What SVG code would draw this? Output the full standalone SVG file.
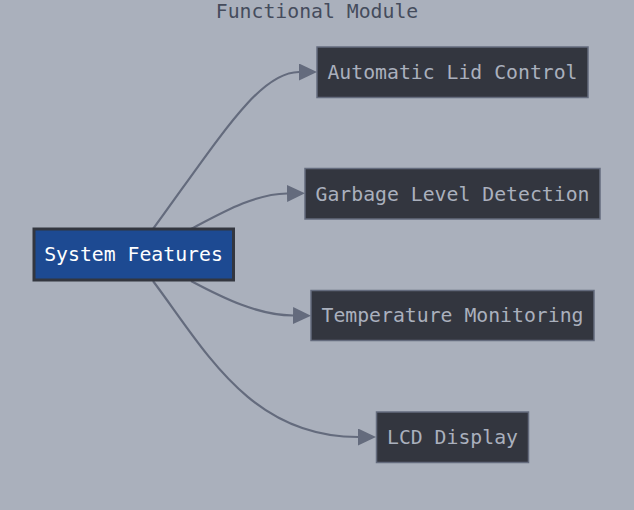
<svg xmlns="http://www.w3.org/2000/svg" width="634" height="510" viewBox="0 0 634 510">
<style>
.bg{fill:#aab0bc}
.node rect{fill:#33363f;stroke:#646b7d;stroke-width:1.5}
.node text{font-family:"DejaVu Sans Mono",monospace;font-size:19.8px;fill:#aab0bd;text-anchor:middle}
.root rect{fill:#1d4a92;stroke:#33363f;stroke-width:3}
.root text{fill:#ffffff}
.title{font-family:"DejaVu Sans Mono",monospace;font-size:19.8px;fill:#454c5c;text-anchor:middle}
.edge{fill:none;stroke:#646b7d;stroke-width:2.2}
</style>
<defs>
<marker id="arr" markerUnits="userSpaceOnUse" markerWidth="18" markerHeight="17" refX="0" refY="8.5" orient="auto" viewBox="0 0 18 17">
<path d="M0,0 L18,8.5 L0,17 z" fill="#646b7d"/>
</marker>
</defs>
<rect class="bg" x="0" y="0" width="634" height="510"/>
<text class="title" x="317" y="18">Functional Module</text>
<g id="connectors">
<path class="edge" marker-end="url(#arr)" d="M153,229 C223,133 260,72 299,72"/>
<path class="edge" marker-end="url(#arr)" d="M191,229 C225,211 255,194 287,193.5"/>
<path class="edge" marker-end="url(#arr)" d="M191,281 C225,299 258,315 293,315.5"/>
<path class="edge" marker-end="url(#arr)" d="M153,281 C205,350 250,437 358,437"/>
</g>
<g id="system-features" class="node root">
<rect x="34" y="229" width="199.5" height="51"/>
<text x="133.5" y="261">System Features</text>
</g>
<g id="automatic-lid-control" class="node">
<rect x="317" y="47" width="271" height="50.5"/>
<text x="452.5" y="79">Automatic Lid Control</text>
</g>
<g id="garbage-level-detection" class="node">
<rect x="305" y="168.5" width="295" height="50.5"/>
<text x="452.5" y="200.5">Garbage Level Detection</text>
</g>
<g id="temperature-monitoring" class="node">
<rect x="311" y="290.5" width="283" height="50"/>
<text x="452.5" y="322">Temperature Monitoring</text>
</g>
<g id="lcd-display" class="node">
<rect x="376.5" y="412" width="152" height="50.5"/>
<text x="452.5" y="444">LCD Display</text>
</g>
</svg>
